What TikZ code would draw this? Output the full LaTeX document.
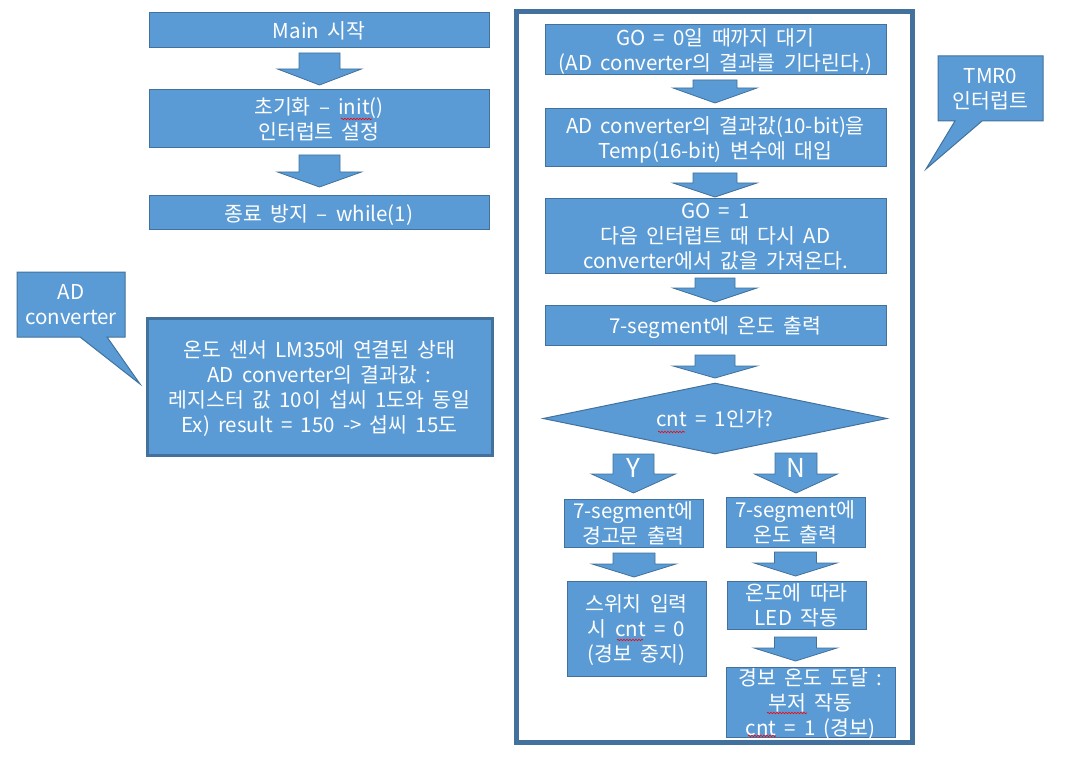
\documentclass[tikz,border=0pt]{standalone}
\usepackage{fontspec}
\setmainfont{Noto Sans CJK KR}[WordSpace=1.8]
\usetikzlibrary{shapes.geometric,decorations.pathmorphing}
\definecolor{bfill}{HTML}{5B9BD5}
\definecolor{bline}{HTML}{41719C}
\tikzset{
  box/.style={draw=bline, line width=1pt, fill=bfill, text=white, align=center, inner sep=0pt,
    text depth=0pt, font=\fontsize{20.5}{25}\selectfont},
  thickbox/.style={box, line width=3pt},
  frame/.style={draw=bline, line width=5pt, inner sep=0pt},
  blk/.style={fill=bfill, draw=bline, line width=0.8pt},
  callout/.style={fill=bfill, draw=bline, line width=1pt},
  calltext/.style={text=white, align=center, inner sep=0pt, text depth=0pt, font=\fontsize{20.5}{25}\selectfont},
  yn/.style={text=white, inner sep=0pt, font=\fontsize{26}{28}\selectfont},
  squig/.style={draw=red, line width=0.6pt, decorate, decoration={snake, amplitude=0.8pt, segment length=3pt}}
}
% cx, top, head-top, tip, shaft half width, head half width
\newcommand{\barrow}[6]{%
  \draw[blk] (#1-#5,#2) -- (#1+#5,#2) -- (#1+#5,#3) -- (#1+#6,#3) -- (#1,#4) -- (#1-#6,#3) -- (#1-#5,#3) -- cycle;}
\begin{document}
\begin{tikzpicture}[x=1pt,y=-1pt]
\useasboundingbox (0,0) rectangle (1070,767);

% left column
\node[box, minimum width=340, minimum height=35] (m1) at (319,30.5) {Main 시작};
\node[box, minimum width=340, minimum height=58] (m2) at (319,119) {초기화 – init()\\인터럽트 설정};
\node[box, minimum width=340, minimum height=34] (m3) at (319,213) {종료 방지 – while(1)};
\barrow{319.5}{53}{69}{85}{20.5}{42}
\barrow{319.5}{155}{172}{187}{20.5}{42}
\draw[squig] (341,119) -- (372,119);

% AD converter callout
\draw[callout] (17,272) -- (125,272) -- (125,337) -- (107,337) -- (140,384) -- (80,337) -- (17,337) -- cycle;
\node[calltext] (adc) at (71,304.5) {AD\\converter};
\node[thickbox, minimum width=345, minimum height=137] (adbox) at (319.5,386.5)
  {온도 센서 LM35에 연결된 상태\\AD converter의 결과값 :\\레지스터 값 10이 섭씨 1도와 동일\\Ex) result = 150 -> 섭씨 15도};

% right frame
\node[frame, minimum width=396, minimum height=730] (frm) at (714.5,377) {};

\node[box, minimum width=341, minimum height=50] (r1) at (715.5,50) {GO = 0일 때까지 대기\\(AD converter의 결과를 기다린다.)};
\node[box, minimum width=341, minimum height=58] (r2) at (715.5,138) {AD converter의 결과값(10-bit)을\\Temp(16-bit) 변수에 대입};
\node[box, minimum width=341, minimum height=74] (r3) at (715.5,236) {GO = 1\\다음 인터럽트 때 다시 AD\\converter에서 값을 가져온다.};
\node[box, minimum width=341, minimum height=40] (r4) at (715.5,325) {7-segment에 온도 출력};
\node[box, diamond, aspect=4.85, minimum width=344, minimum height=71] (d) at (715,418.5) {cnt = 1인가?};
\draw[squig] (658,432) -- (685,432);

\barrow{715}{80}{88}{103}{22}{42}
\barrow{715}{173}{183}{197}{22}{42}
\barrow{715}{278}{288}{302}{20}{42}
\barrow{715}{355}{366}{378}{20}{42}

\barrow{633.5}{454}{474}{493}{20.5}{42}
\barrow{796}{453}{474}{493}{21}{41.5}
\node[yn] (yl) at (633.5,468) {Y};
\node[yn] (nl) at (796,468) {N};

\node[box, minimum width=139, minimum height=48] (y1) at (633.5,523) {7-segment에\\경고문 출력};
\node[box, minimum width=139, minimum height=50] (n1) at (795.5,522) {7-segment에\\온도 출력};
\barrow{634}{553}{564}{577}{21}{42}
\barrow{795.5}{552}{563}{576}{21}{41.5}
\node[box, minimum width=139, minimum height=95] (y2) at (636.5,628.5) {스위치 입력\\시 cnt = 0\\(경보 중지)};
\draw[squig] (617,640) -- (643,640);
\node[box, minimum width=139, minimum height=48] (n2) at (796.5,605) {온도에 따라\\LED 작동};
\barrow{795.5}{637}{648}{661}{21}{41.5}
\node[box, minimum width=169, minimum height=70] (n3) at (810.5,702) {경보 온도 도달 :\\부저 작동\\cnt = 1 (경보)};
\draw[squig] (767,713) -- (807,713);
\draw[squig] (748,736) -- (776,736);

% TMR0 callout
\draw[callout] (938,56) -- (1043,56) -- (1043,121) -- (982,121) -- (926,169) -- (955,121) -- (938,121) -- cycle;
\node[calltext] (tmr) at (990.5,88.5) {TMR0\\인터럽트};
\end{tikzpicture}
\end{document}
